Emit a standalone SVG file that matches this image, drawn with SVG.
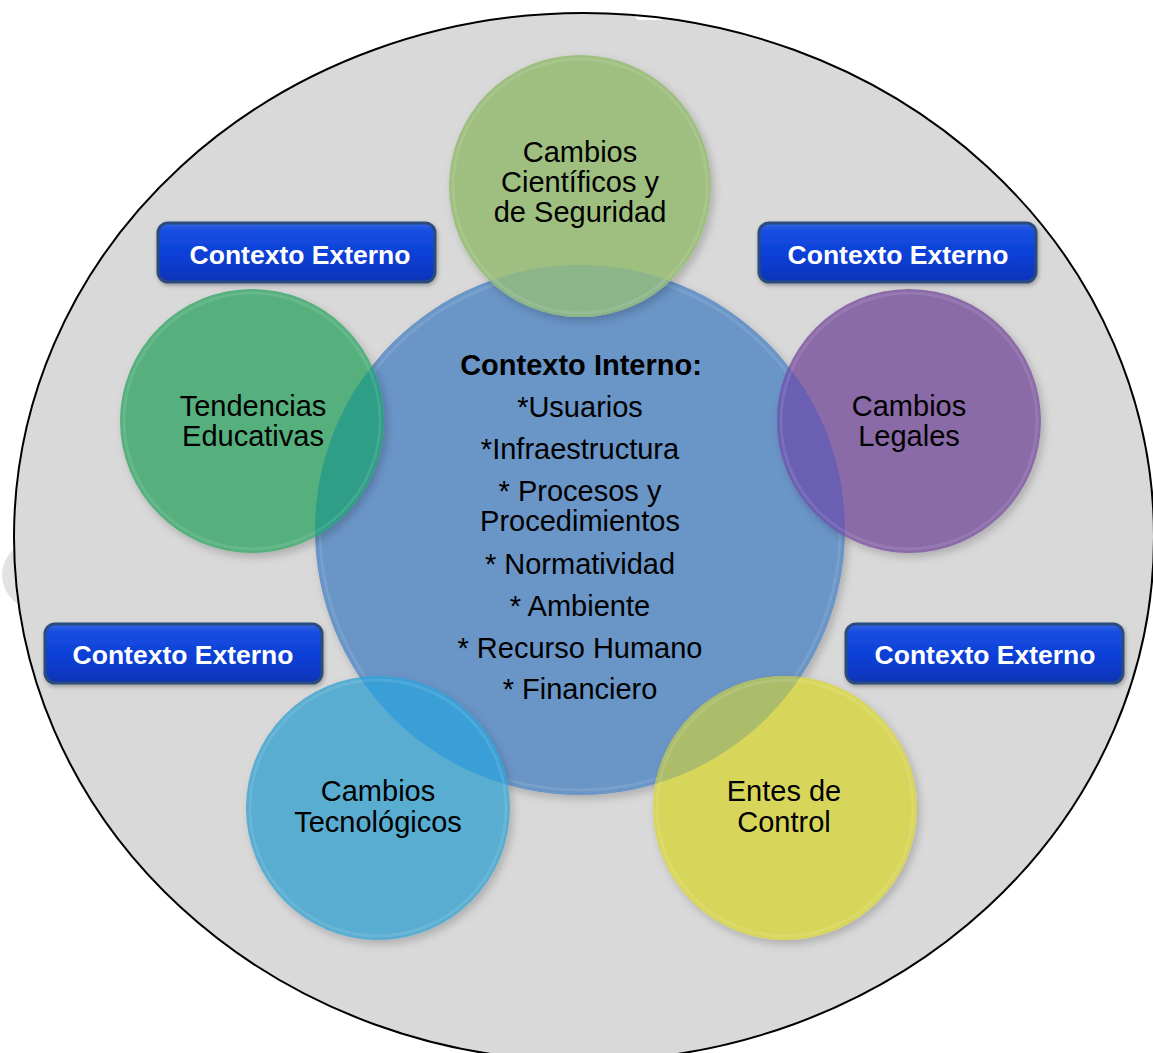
<svg xmlns="http://www.w3.org/2000/svg" width="1153" height="1053" viewBox="0 0 1153 1053">
<style>
.lbl{font-family:"Liberation Sans",Arial,sans-serif;font-size:29px;fill:#000;text-anchor:middle}
.ttl{font-family:"Liberation Sans",Arial,sans-serif;font-size:29px;font-weight:bold;fill:#000;text-anchor:middle}
.btxt{font-family:"Liberation Sans",Arial,sans-serif;font-size:26.5px;font-weight:bold;fill:#fff;text-anchor:middle}
.btn{fill:url(#btnGrad);stroke:#2c4b7c;stroke-width:3}
.rim{fill:none;stroke:#fff;stroke-width:3;opacity:0.1}
</style>
<defs>
<linearGradient id="btnGrad" x1="0" y1="0" x2="0" y2="1">
<stop offset="0" stop-color="#3566e0"/>
<stop offset="0.12" stop-color="#1a4fe2"/>
<stop offset="0.55" stop-color="#0b3fd6"/>
<stop offset="1" stop-color="#0a34b6"/>
</linearGradient>
<filter id="shadow" x="-20%" y="-20%" width="140%" height="140%">
<feDropShadow dx="3" dy="4" stdDeviation="4" flood-color="#000" flood-opacity="0.2"/>
</filter>
<filter id="bshadow" x="-10%" y="-20%" width="120%" height="150%">
<feDropShadow dx="1" dy="2" stdDeviation="2" flood-color="#000" flood-opacity="0.3"/>
</filter>
<clipPath id="clipBlue"><circle cx="580" cy="530" r="265"/></clipPath>
</defs>

<g id="background">
<ellipse cx="45" cy="575" rx="43" ry="38" fill="#e3e3e3"/>
<ellipse cx="584" cy="537" rx="570" ry="524" fill="#d9d9d9"/>
<polygon points="617,0 641,0 662,20 638,20" fill="#fff"/>
<polygon points="703,0 738,0 722,9" fill="#fff"/>
<ellipse cx="584" cy="537" rx="570" ry="524" fill="none" stroke="#000" stroke-width="2"/>
</g>

<g id="node-interno">
<circle cx="580" cy="530" r="265" fill="#6a95c7" filter="url(#shadow)"/>
<circle cx="580" cy="530" r="260" class="rim"/>
</g>

<g id="node-cientificos">
<circle cx="580" cy="186" r="131" fill="#9ebf7f" filter="url(#shadow)"/>
<circle cx="580" cy="186" r="131" fill="#8db58a" clip-path="url(#clipBlue)"/>
<circle cx="580" cy="186" r="127" class="rim"/>
<text class="lbl" x="580" y="162">Cambios</text>
<text class="lbl" x="580" y="192">Científicos y</text>
<text class="lbl" x="580" y="222">de Seguridad</text>
</g>

<g id="node-tendencias">
<circle cx="252" cy="421" r="132" fill="#55b07e" filter="url(#shadow)"/>
<circle cx="252" cy="421" r="132" fill="#2f9e86" clip-path="url(#clipBlue)"/>
<circle cx="252" cy="421" r="128" class="rim"/>
<text class="lbl" x="253" y="416">Tendencias</text>
<text class="lbl" x="253" y="446">Educativas</text>
</g>

<g id="node-legales">
<circle cx="909" cy="421" r="132" fill="#8b6ba8" filter="url(#shadow)"/>
<circle cx="909" cy="421" r="132" fill="#6b5fb4" clip-path="url(#clipBlue)"/>
<circle cx="909" cy="421" r="128" class="rim"/>
<text class="lbl" x="909" y="416">Cambios</text>
<text class="lbl" x="909" y="446">Legales</text>
</g>

<g id="node-tecnologicos">
<circle cx="378" cy="808" r="132" fill="#58add1" filter="url(#shadow)"/>
<circle cx="378" cy="808" r="132" fill="#3a9fd6" clip-path="url(#clipBlue)"/>
<circle cx="378" cy="808" r="128" class="rim"/>
<text class="lbl" x="378" y="801">Cambios</text>
<text class="lbl" x="378" y="832">Tecnológicos</text>
</g>

<g id="node-entes">
<circle cx="785" cy="808" r="132" fill="#d7d65a" filter="url(#shadow)"/>
<circle cx="785" cy="808" r="132" fill="#abbd6b" clip-path="url(#clipBlue)"/>
<circle cx="785" cy="808" r="128" class="rim"/>
<text class="lbl" x="784" y="801">Entes de</text>
<text class="lbl" x="784" y="832">Control</text>
</g>

<g id="node-interno-text">
<text class="ttl" x="581" y="375">Contexto Interno:</text>
<text class="lbl" x="580" y="417">*Usuarios</text>
<text class="lbl" x="580" y="459">*Infraestructura</text>
<text class="lbl" x="580" y="501">* Procesos y</text>
<text class="lbl" x="580" y="531">Procedimientos</text>
<text class="lbl" x="580" y="574">* Normatividad</text>
<text class="lbl" x="580" y="616">* Ambiente</text>
<text class="lbl" x="580" y="658">* Recurso Humano</text>
<text class="lbl" x="580" y="699">* Financiero</text>
</g>

<g id="btn-externo-tl">
<rect class="btn" x="158" y="223" width="277" height="59" rx="10" filter="url(#bshadow)"/>
<text class="btxt" x="300" y="264">Contexto Externo</text>
</g>
<g id="btn-externo-tr">
<rect class="btn" x="759" y="223" width="277" height="59" rx="10" filter="url(#bshadow)"/>
<text class="btxt" x="898" y="264">Contexto Externo</text>
</g>
<g id="btn-externo-bl">
<rect class="btn" x="45" y="624" width="277" height="59" rx="10" filter="url(#bshadow)"/>
<text class="btxt" x="183" y="664">Contexto Externo</text>
</g>
<g id="btn-externo-br">
<rect class="btn" x="846" y="624" width="277" height="59" rx="10" filter="url(#bshadow)"/>
<text class="btxt" x="985" y="664">Contexto Externo</text>
</g>
</svg>
